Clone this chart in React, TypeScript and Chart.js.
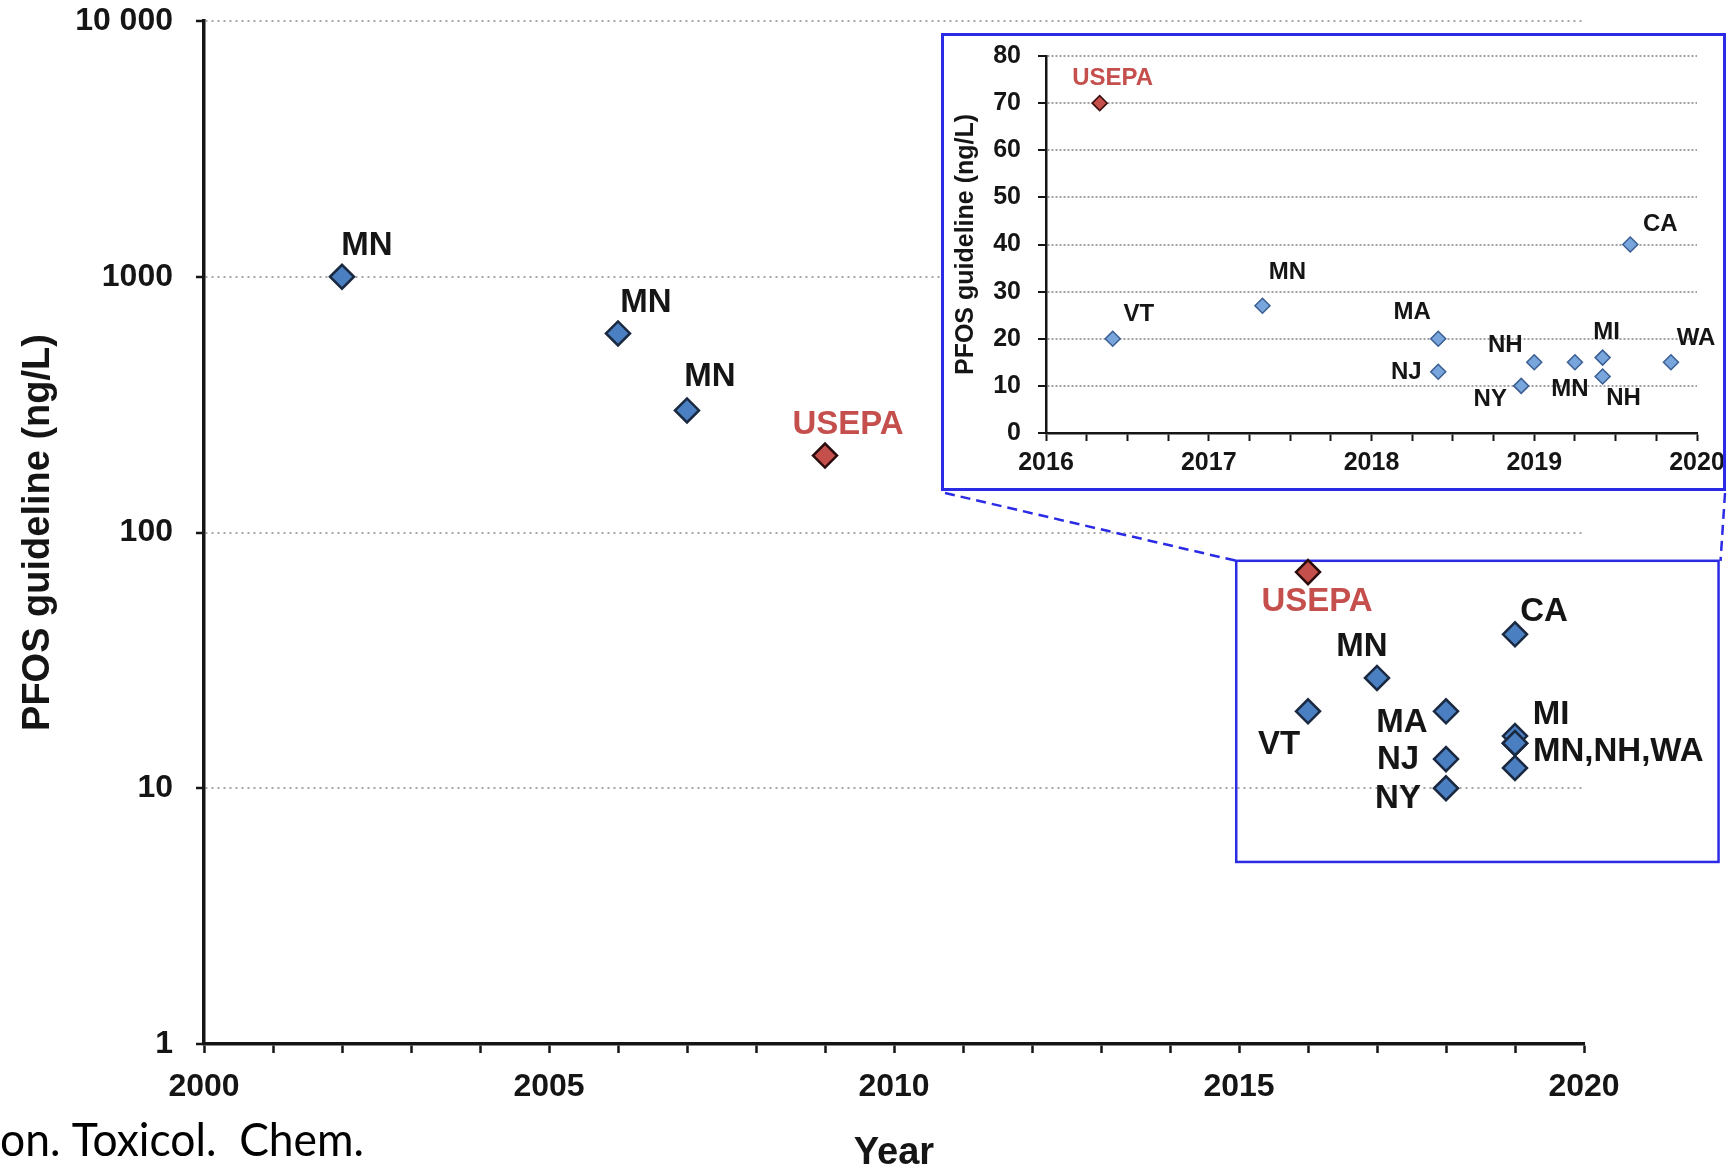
import React, { useEffect, useRef } from 'react';
import { Chart, registerables } from 'chart.js';

Chart.register(...registerables);

// ---------------- Data: main (log) chart ----------------
const MAIN_YEARS = [2002, 2006, 2007, 2009, 2016, 2016, 2017, 2018, 2018, 2018, 2019, 2019, 2019, 2019, 2019, 2019];
const MAIN_VALUES = [1000, 600, 300, 200, 70, 20, 27, 20, 13, 10, 40, 16, 15, 15, 15, 12];
const MAIN_AGENCIES = ['MN', 'MN', 'MN', 'USEPA', 'USEPA', 'VT', 'MN', 'MA', 'NJ', 'NY', 'CA', 'MI', 'MN', 'NH', 'WA', 'NH'];
const MAIN_LABELS = ['MN', 'MN', 'MN', 'USEPA', 'USEPA', 'VT', 'MN', 'MA', 'NJ', 'NY', 'CA', 'MI', 'MN,NH,WA', '', '', ''];
const Y_TICKS = [1, 10, 100, 1000, 10000];
const Y_TICK_LABELS = ['1', '10', '100', '1000', '10 000'];
const X_MAJOR_LABELS = ['2000', '2005', '2010', '2015', '2020'];
const ZOOM_BOX_X = [2014.96, 2021.95];
const ZOOM_BOX_Y = [5.15, 77.5];

// ---------------- Data: inset (linear) chart ----------------
const INSET_YEARS = [2016.33, 2016.41, 2017.33, 2018.41, 2018.41, 2018.92, 2019.0, 2019.25, 2019.42, 2019.42, 2019.59, 2019.84];
const INSET_VALUES = [70, 20, 27, 20, 13, 10, 15, 15, 16, 12, 40, 15];
const INSET_LABELS = ['USEPA', 'VT', 'MN', 'MA', 'NJ', 'NY', 'NH', 'MN', 'MI', 'NH', 'CA', 'WA'];
const INSET_Y_TICKS = [0, 10, 20, 30, 40, 50, 60, 70, 80];
const INSET_X_LABELS = ['2016', '2017', '2018', '2019', '2020'];

// ---------------- Styles ----------------
const FONT = "'Liberation Sans', Arial, Helvetica, sans-serif";
const RED_TEXT = '#c44f4c';
const BOX_BLUE = '#2b2be6';
// label offsets [dx, dy, align] relative to each point (pixels)
const MAIN_LABEL_OFFSETS: [number, number, CanvasTextAlign][] = [
  [25, -31, 'center'], [28, -31, 'center'], [23, -34, 'center'], [23, -31, 'center'],
  [9, 30, 'center'], [-29, 34, 'center'], [-15, -31, 'center'], [-44, 12, 'center'],
  [-48, 1, 'center'], [-48, 11, 'center'], [29, -22, 'center'], [36, -21, 'center'],
  [18, 9, 'left'], [0, 0, 'center'], [0, 0, 'center'], [0, 0, 'center'],
];
const INSET_LABEL_OFFSETS: [number, number, CanvasTextAlign][] = [
  [13, -25, 'center'], [26, -24, 'center'], [25, -33, 'center'], [-26, -26, 'center'],
  [-32, 1, 'center'], [-31, 13, 'center'], [-29, -17, 'center'], [-5, 27, 'center'],
  [4, -25, 'center'], [21, 22, 'center'], [30, -20, 'center'], [25, -24, 'center'],
];

const INSET_LEFT = 941;
const INSET_TOP = 33;
const INSET_W = 785;
const INSET_H = 458;

function makeLabelPlugin(id: string, labels: string[], offsets: [number, number, CanvasTextAlign][], size: number) {
  return {
    id,
    afterDatasetsDraw(chart: any) {
      const ctx = chart.ctx as CanvasRenderingContext2D;
      const meta = chart.getDatasetMeta(0);
      ctx.save();
      ctx.font = `bold ${size}px ${FONT}`;
      ctx.textBaseline = 'middle';
      meta.data.forEach((pt: any, i: number) => {
        const txt = labels[i];
        if (!txt) return;
        const [dx, dy, align] = offsets[i];
        ctx.textAlign = align;
        ctx.fillStyle = txt === 'USEPA' ? RED_TEXT : '#151515';
        ctx.fillText(txt, pt.x + dx, pt.y + dy);
      });
      ctx.restore();
    },
  };
}

const mainExtras = {
  id: 'mainExtras',
  beforeDatasetsDraw(chart: any) {
    const ctx = chart.ctx as CanvasRenderingContext2D;
    const xs = chart.scales.x;
    const ys = chart.scales.y;
    const x1 = xs.getPixelForValue(ZOOM_BOX_X[0]);
    const x2 = xs.getPixelForValue(ZOOM_BOX_X[1]);
    const y1 = ys.getPixelForValue(ZOOM_BOX_Y[1]);
    const y2 = ys.getPixelForValue(ZOOM_BOX_Y[0]);
    ctx.save();
    ctx.strokeStyle = BOX_BLUE;
    ctx.lineWidth = 2.5;
    ctx.strokeRect(x1, y1, x2 - x1, y2 - y1);
    // dashed connectors from inset box corners to zoom box corners
    ctx.setLineDash([10, 6]);
    ctx.beginPath();
    ctx.moveTo(INSET_LEFT + 4, INSET_TOP + INSET_H + 2);
    ctx.lineTo(x1, y1);
    ctx.moveTo(INSET_LEFT + INSET_W - 1, INSET_TOP + INSET_H + 2);
    ctx.lineTo(x2 + 2, y1);
    ctx.stroke();
    ctx.restore();
  },
  afterDraw(chart: any) {
    const ctx = chart.ctx as CanvasRenderingContext2D;
    ctx.save();
    ctx.font = "46px Lato, 'Open Sans', sans-serif";
    ctx.fillStyle = '#000';
    ctx.textBaseline = 'alphabetic';
    ctx.textAlign = 'left';
    const text = 'on. Toxicol.  Chem.';
    const w = ctx.measureText(text).width;
    const sx = 364 / w;
    ctx.translate(0, 1156);
    ctx.scale(sx, 1);
    ctx.fillText(text, 0, 0);
    ctx.restore();
  },
};

const insetFrame = {
  id: 'insetFrame',
  beforeDraw(chart: any) {
    const ctx = chart.ctx as CanvasRenderingContext2D;
    ctx.save();
    ctx.fillStyle = '#ffffff';
    ctx.fillRect(0, 0, chart.width, chart.height);
    ctx.restore();
  },
  afterDraw(chart: any) {
    const ctx = chart.ctx as CanvasRenderingContext2D;
    ctx.save();
    ctx.strokeStyle = BOX_BLUE;
    ctx.lineWidth = 3;
    ctx.strokeRect(1.5, 1.5, chart.width - 3, chart.height - 3);
    ctx.restore();
  },
};

export default function App() {
  const mainRef = useRef<HTMLCanvasElement>(null);
  const insetRef = useRef<HTMLCanvasElement>(null);

  useEffect(() => {
    const mainPoints = MAIN_YEARS.map((x, i) => ({ x, y: MAIN_VALUES[i] }));
    const main = new Chart(mainRef.current as HTMLCanvasElement, {
      type: 'scatter',
      data: {
        datasets: [
          {
            data: mainPoints,
            pointStyle: 'rectRot',
            pointRadius: 12,
            borderWidth: 2.5,
            backgroundColor: MAIN_AGENCIES.map((a) => (a === 'USEPA' ? '#c5504b' : '#4a7fc2')),
            borderColor: MAIN_AGENCIES.map((a) => (a === 'USEPA' ? '#2a0c0c' : '#1a2940')),
          } as any,
        ],
      },
      options: {
        responsive: false,
        animation: false,
        events: [],
        layout: { padding: { left: 0, right: 145, top: 21, bottom: 0 } },
        plugins: { legend: { display: false }, tooltip: { enabled: false } },
        scales: {
          x: {
            type: 'linear',
            min: 2000,
            max: 2020,
            afterFit: (s: any) => { s.height = 124; s.paddingLeft = 0; s.paddingRight = 0; },
            ticks: {
              stepSize: 1,
              autoSkip: false,
              maxRotation: 0,
              padding: 15,
              color: '#151515',
              font: { family: FONT, size: 32, weight: 'bold' },
              callback: (v: any) => {
                const idx = X_MAJOR_LABELS.indexOf(String(v));
                return idx >= 0 ? X_MAJOR_LABELS[idx] : '';
              },
            },
            grid: { drawOnChartArea: false, tickLength: 9, tickColor: '#151515', tickWidth: 2.5 },
            border: { color: '#151515', width: 3.5 },
            title: {
              display: true,
              text: 'Year',
              color: '#151515',
              padding: { top: 0, bottom: 0 },
              font: { family: FONT, size: 38, weight: 'bold', lineHeight: 0.75 },
            },
          } as any,
          y: {
            type: 'logarithmic',
            min: 1,
            max: 10000,
            afterFit: (s: any) => { s.width = 204; s.paddingTop = 0; s.paddingBottom = 0; },
            afterBuildTicks: (s: any) => { s.ticks = Y_TICKS.map((v) => ({ value: v })); },
            ticks: {
              autoSkip: false,
              padding: 23,
              color: '#151515',
              font: { family: FONT, size: 32, weight: 'bold' },
              callback: (v: any) => Y_TICK_LABELS[Y_TICKS.indexOf(Number(v))],
            },
            grid: {
              color: (c: any) => (c.tick && c.tick.value === 1 ? 'rgba(0,0,0,0)' : '#a6a6a6'),
              lineWidth: 2,
              tickLength: 8,
              tickColor: '#151515',
              tickWidth: 2.5,
            },
            border: { color: '#151515', width: 3.5, dash: [2, 4] },
            title: {
              display: true,
              text: 'PFOS guideline (ng/L)',
              color: '#151515',
              padding: { top: 20, bottom: 0 },
              font: { family: FONT, size: 38, weight: 'bold', lineHeight: 1 },
            },
          } as any,
        },
      } as any,
      plugins: [mainExtras, makeLabelPlugin('mainLabels', MAIN_LABELS, MAIN_LABEL_OFFSETS, 33)],
    });

    const insetPoints = INSET_YEARS.map((x, i) => ({ x, y: INSET_VALUES[i] }));
    const inset = new Chart(insetRef.current as HTMLCanvasElement, {
      type: 'scatter',
      data: {
        datasets: [
          {
            data: insetPoints,
            pointStyle: 'rectRot',
            pointRadius: 7.5,
            borderWidth: 1.5,
            backgroundColor: INSET_LABELS.map((a) => (a === 'USEPA' ? '#c5504b' : '#78a5dc')),
            borderColor: INSET_LABELS.map((a) => (a === 'USEPA' ? '#3a0f0f' : '#3a5e92')),
          } as any,
        ],
      },
      options: {
        responsive: false,
        animation: false,
        events: [],
        layout: { padding: { left: 0, right: 29, top: 23, bottom: 0 } },
        plugins: { legend: { display: false }, tooltip: { enabled: false } },
        scales: {
          x: {
            type: 'linear',
            min: 2016,
            max: 2020,
            afterFit: (s: any) => { s.height = 58; s.paddingLeft = 0; s.paddingRight = 0; },
            ticks: {
              stepSize: 0.25,
              autoSkip: false,
              maxRotation: 0,
              padding: 7,
              color: '#151515',
              font: { family: FONT, size: 25, weight: 'bold' },
              callback: (v: any) => {
                const idx = INSET_X_LABELS.indexOf(String(v));
                return idx >= 0 ? INSET_X_LABELS[idx] : '';
              },
            },
            grid: { drawOnChartArea: false, tickLength: 8, tickColor: '#151515', tickWidth: 2 },
            border: { color: '#151515', width: 2.5 },
          } as any,
          y: {
            type: 'linear',
            min: 0,
            max: 80,
            afterFit: (s: any) => { s.width = 105; s.paddingTop = 0; s.paddingBottom = 0; },
            afterBuildTicks: (s: any) => { s.ticks = INSET_Y_TICKS.map((v) => ({ value: v })); },
            ticks: {
              autoSkip: false,
              padding: 17,
              color: '#151515',
              font: { family: FONT, size: 25, weight: 'bold' },
              callback: (v: any) => String(v),
            },
            grid: {
              color: (c: any) => (c.tick && c.tick.value === 0 ? 'rgba(0,0,0,0)' : '#a0a0a0'),
              lineWidth: 2,
              tickLength: 8,
              tickColor: '#151515',
              tickWidth: 2,
            },
            border: { color: '#151515', width: 2.5, dash: [2, 2] },
            title: {
              display: true,
              text: 'PFOS guideline (ng/L)',
              color: '#151515',
              padding: { top: 13, bottom: 0 },
              font: { family: FONT, size: 25, weight: 'bold', lineHeight: 1 },
            },
          } as any,
        },
      } as any,
      plugins: [insetFrame, makeLabelPlugin('insetLabels', INSET_LABELS, INSET_LABEL_OFFSETS, 24)],
    });

    return () => {
      main.destroy();
      inset.destroy();
    };
  }, []);

  return (
    <div style={{ position: 'absolute', left: 0, top: 0, width: 1729, height: 1168, overflow: 'hidden', background: '#ffffff' }}>
      <canvas
        ref={mainRef}
        width={1729}
        height={1168}
        style={{ position: 'absolute', left: 0, top: 0, width: 1729, height: 1168 }}
      />
      <canvas
        ref={insetRef}
        width={INSET_W}
        height={INSET_H}
        style={{ position: 'absolute', left: INSET_LEFT, top: INSET_TOP, width: INSET_W, height: INSET_H }}
      />
    </div>
  );
}
